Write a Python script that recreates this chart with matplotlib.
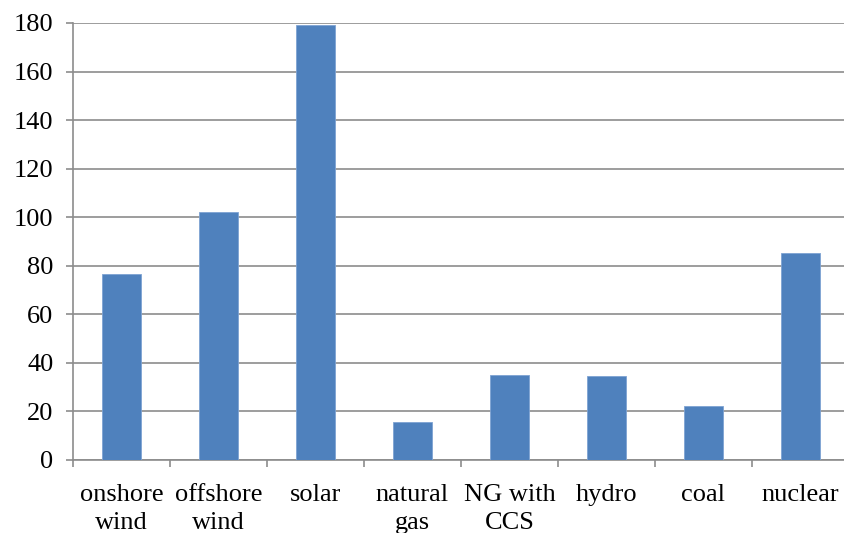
import matplotlib
matplotlib.use("Agg")
import matplotlib.pyplot as plt
import numpy as np

categories = ["onshore\nwind", "offshore\nwind", "solar", "natural\ngas",
              "NG with\nCCS", "hydro", "coal", "nuclear"]
values = [76.5, 102.3, 179.3, 15.8, 35.0, 34.6, 22.2, 85.4]
yticks = [0, 20, 40, 60, 80, 100, 120, 140, 160, 180]

plt.rcParams["font.family"] = ["Liberation Serif", "DejaVu Serif"]

W, H = 844, 533
fig = plt.figure(figsize=(W / 100, H / 100), dpi=100)
ax = fig.add_axes([73 / W, (H - 460) / H, (849 - 73) / W, (460 - 23) / H])

grid_color = "#8c8c8c"
x = np.arange(len(categories)) + 0.5
ax.bar(x, values, width=0.4, color="#4F81BD", edgecolor="#7ea3d3",
       linewidth=0.6, zorder=3)

ax.set_xlim(0, len(categories))
ax.set_ylim(0, 180)
ax.set_yticks(yticks)
ax.yaxis.grid(True, color=grid_color, linewidth=1.2, zorder=0)
ax.set_axisbelow(True)

ax.set_xticks(np.arange(len(categories) + 1))
ax.set_xticklabels([])
ax.set_xticks(x, minor=True)
ax.set_xticklabels(categories, minor=True)
ax.tick_params(axis="x", which="minor", length=0, pad=17, labelsize=19)
ax.tick_params(axis="x", which="major", length=5, width=1.2, color=grid_color)
ax.tick_params(axis="y", length=5, width=1.2, color=grid_color, pad=9,
               labelsize=19)
for lbl in ax.get_xticklabels(minor=True):
    lbl.set_linespacing(1.35)

for side in ("top", "right"):
    ax.spines[side].set_visible(False)
for side in ("left", "bottom"):
    ax.spines[side].set_color(grid_color)
    ax.spines[side].set_linewidth(1.2)

fig.savefig("out.png", dpi=100)
